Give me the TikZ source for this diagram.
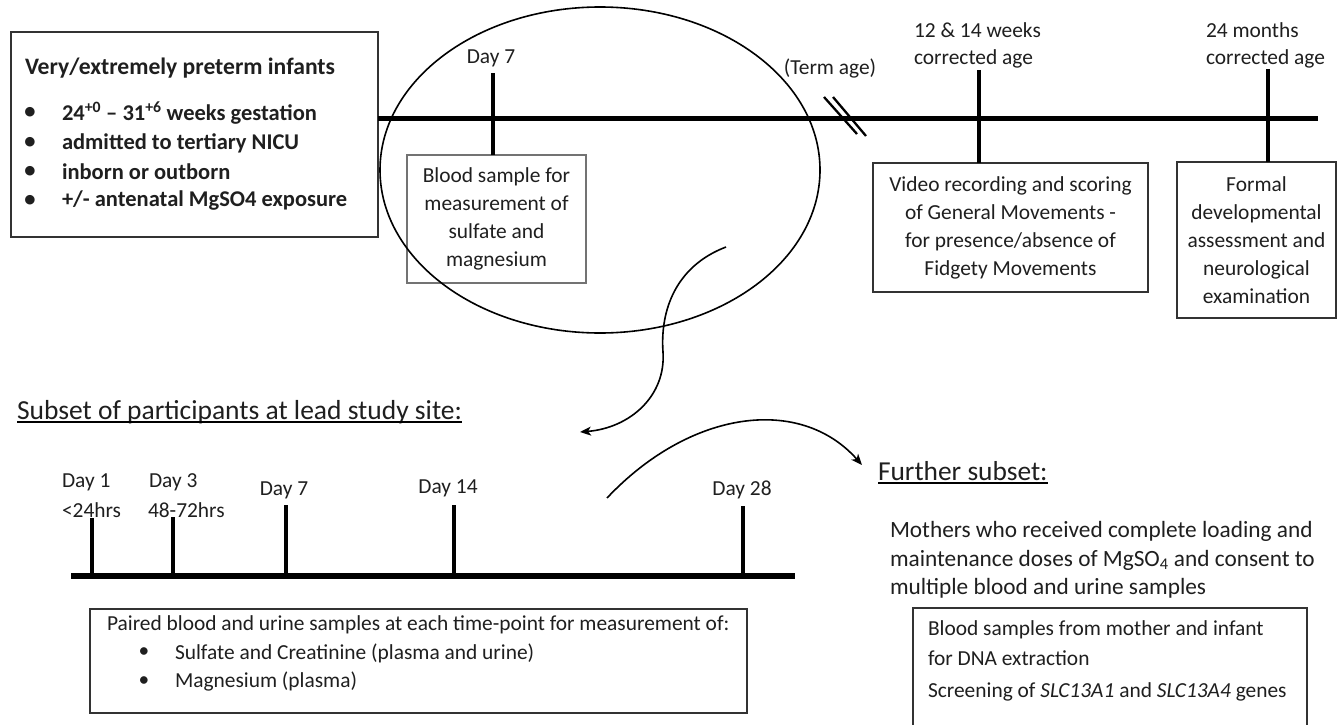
\documentclass[tikz,border=0pt]{standalone}
\usepackage{fontspec}
\setmainfont{Carlito}
\usetikzlibrary{shapes.geometric,arrows.meta,calc}
\begin{document}
\begin{tikzpicture}[x=1pt,y=-1pt,
  every node/.style={inner sep=0pt, outer sep=0pt, text=black!88},
  body/.style={font=\fontsize{21.4}{28}\selectfont},
  bbody/.style={font=\fontsize{22.5}{28}\selectfont\bfseries},
  box/.style={draw=black!80, line width=1.2pt, align=center, font=\fontsize{21.4}{28}\selectfont},
  tline/.style={line width=5pt},
  tick/.style={line width=4.5pt},
  btick/.style={line width=3.8pt},
  curve/.style={line width=1.6pt, -{Stealth[length=11pt,width=9pt,inset=3pt]}},
]
\fill[white] (0,0) rectangle (1338,725);
\useasboundingbox (0,0) rectangle (1338,725);

% ---------- top-left box ----------
\node[box, minimum width=367pt, minimum height=205pt, anchor=north west] (leftbox) at (11,32) {};
\node[anchor=west, font=\fontsize{23.6}{28}\selectfont\bfseries] (title) at (25,68) {Very/extremely preterm infants};
\node[bbody] (b1) at (30,113) {\textbullet};
\node[bbody] (b2) at (30,143) {\textbullet};
\node[bbody] (b3) at (30,172) {\textbullet};
\node[bbody] (b4) at (30,201) {\textbullet};
\node[bbody, anchor=west] (t1) at (62,113) {24\textsuperscript{+0} – 31\textsuperscript{+6} weeks gestation};
\node[bbody, anchor=west] (t2) at (62,143) {admitted to tertiary NICU};
\node[bbody, anchor=west] (t3) at (62,172) {inborn or outborn};
\node[bbody, anchor=west] (t4) at (62,201) {+/- antenatal MgSO4 exposure};

% ---------- top timeline ----------
\coordinate (tlA) at (378,118);
\coordinate (tlB) at (1318,118);
\draw[tline] (tlA) -- (tlB);

% Day 7
\node[body] (d7lab) at (491,58) {Day 7};
\node[box, draw=black!55, minimum width=179pt, minimum height=128pt] (blood) at (496.5,219)
  {Blood sample for\\measurement of\\sulfate and\\magnesium};
\coordinate (d7top) at (493,73);
\draw[tick] (d7top) -- (d7top |- blood.north);

% ellipse
\node[draw, ellipse, line width=1.6pt, minimum width=440pt, minimum height=326pt] (ell) at (600,170) {};

% term age
\node[body] (term) at (830,69) {(Term age)};
\coordinate (s1a) at (824,97); \coordinate (s1b) at (857,134);
\coordinate (s2a) at (833,97); \coordinate (s2b) at (866,136);
\draw[line width=2.3pt] (s1a) -- (s1b);
\draw[line width=2.3pt] (s2a) -- (s2b);

% 12 & 14 weeks
\node[body, anchor=west] (w1) at (914,30) {12 \& 14 weeks};
\node[body, anchor=west] (w2) at (914,59) {corrected age};
\node[box, minimum width=275pt, minimum height=129pt] (video) at (1010.5,227.5)
  {Video recording and scoring\\of General Movements -\\for presence/absence of\\Fidgety Movements};
\coordinate (wtop) at (979,70);
\draw[tick] (wtop) -- (wtop |- video.north);

% 24 months
\node[body, anchor=west] (m1) at (1206,30) {24 months};
\node[body, anchor=west] (m2) at (1206,59) {corrected age};
\node[box, minimum width=159pt, minimum height=156pt] (formal) at (1256.5,240)
  {Formal\\developmental\\assessment and\\neurological\\examination};
\coordinate (mtop) at (1268,69);
\draw[tick] (mtop) -- (mtop |- formal.north);

% ---------- curved connectors ----------
\coordinate (c1s) at (726,247);
\coordinate (c1m) at (663,352);
\coordinate (c1e) at (580,432);
\draw[curve] (c1s) .. controls (676,266) and (660,310) .. (c1m) .. controls (666,396) and (630,428) .. (c1e);
\coordinate (c2s) at (607,498);
\coordinate (c2e) at (862,465);
\draw[curve] (c2s) .. controls (690,410) and (800,395) .. (c2e);

% ---------- subset section ----------
\node[anchor=base west, font=\fontsize{27.5}{30}\selectfont] (subset) at (17,419) {Subset of participants at lead study site:};
\draw[line width=1.3pt] ($(subset.base west)+(0,3)$) -- ($(subset.base east)+(0,3)$);

\coordinate (blA) at (71,576);
\coordinate (blB) at (795,576);
\draw[line width=6pt] (blA) -- (blB);

\node[body, anchor=west] (l1a) at (62,482) {Day 1};
\node[body, anchor=west] (l1b) at (62,510) {<24hrs};
\node[body, anchor=west] (l3a) at (149,482) {Day 3};
\node[body, anchor=west] (l3b) at (148,510) {48-72hrs};
\node[body] (l7) at (284,490) {Day 7};
\node[body] (l14) at (448,488) {Day 14};
\node[body] (l28) at (742,490) {Day 28};

\coordinate (k1) at (92,518);
\coordinate (k3) at (173,517);
\coordinate (k7) at (286,505);
\coordinate (k14) at (454,505);
\coordinate (k28) at (743,506);
\foreach \k in {k1,k3,k7,k14,k28} {\draw[btick] (\k) -- (\k |- blA);}

\node[draw=black!80, line width=1.2pt, minimum width=657pt, minimum height=104pt, anchor=north west] (paired) at (90,609) {};
\node[body, anchor=west] (p0) at (107,625) {Paired blood and urine samples at each time-point for measurement of:};
\node[body] (pb1) at (144,653) {\textbullet};
\node[body] (pb2) at (144,682) {\textbullet};
\node[body, anchor=west] (p1) at (175,653) {Sulfate and Creatinine (plasma and urine)};
\node[body, anchor=west] (p2) at (175,682) {Magnesium (plasma)};

% ---------- further subset ----------
\node[anchor=base west, font=\fontsize{27.4}{30}\selectfont] (further) at (878,480) {Further subset:};
\draw[line width=1.3pt] ($(further.base west)+(0,3)$) -- ($(further.base east)+(0,3)$);
\node[anchor=west, font=\fontsize{23.3}{28}\selectfont] (mo1) at (890,531) {Mothers who received complete loading and};
\node[anchor=west, font=\fontsize{23.3}{28}\selectfont] (mo2) at (890,560) {maintenance doses of MgSO\textsubscript{4} and consent to};
\node[anchor=west, font=\fontsize{23.3}{28}\selectfont] (mo3) at (890,588) {multiple blood and urine samples};

\node[draw=black!80, line width=1.2pt, minimum width=394pt, minimum height=120pt, anchor=north west] (dna) at (913,608) {};
\node[body, anchor=west] (dn1) at (928,630) {Blood samples from mother and infant};
\node[body, anchor=west] (dn2) at (928,658) {for DNA extraction};
\node[body, anchor=west] (dn3) at (928,692) {Screening of \textit{SLC13A1} and \textit{SLC13A4} genes};
\end{tikzpicture}
\end{document}
